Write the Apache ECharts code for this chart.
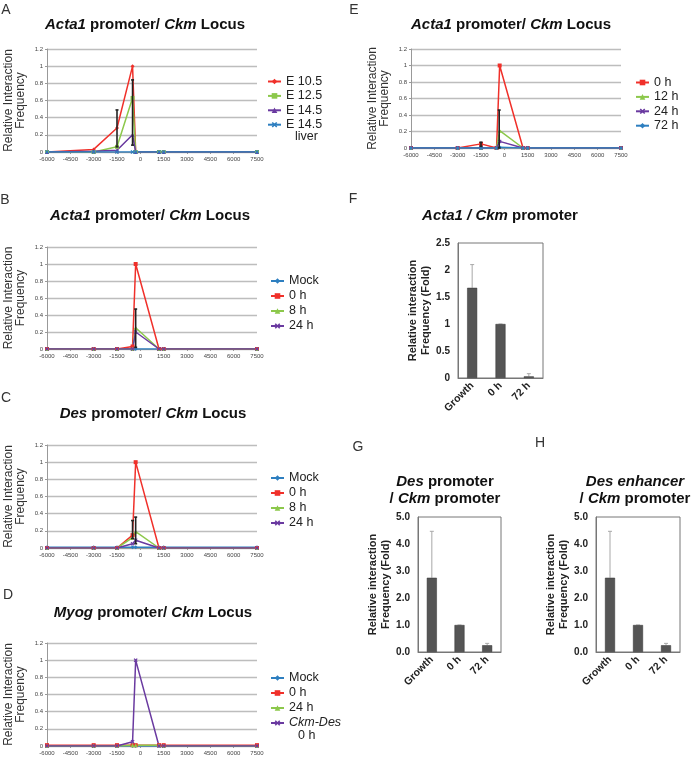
<!DOCTYPE html>
<html><head><meta charset="utf-8">
<script src="https://cdn.jsdelivr.net/npm/echarts@6/dist/echarts.min.js"></script>
<style>html,body{margin:0;padding:0;background:#fff}#c{width:696px;height:757px}</style>
</head><body><div id="c"></div>
<script>
// ---------- data ----------
const lociX = [-6000, -3000, -1500, -500, -300, 1200, 1500, 7500];
const xMin = -6000, xMax = 7500, xStep = 1500;

// Panel A: Acta1 promoter / Ckm locus (embryonic)
const aNames = ['E 10.5', 'E 12.5', 'E 14.5', 'E 14.5'];
const aE105 = [0, 0.03, 0.28, 1.0, 0, 0, 0, 0];
const aE125 = [0, 0, 0.06, 0.63, 0, 0, 0, 0];
const aE145 = [0, 0.01, 0.02, 0.2, 0, 0, 0, 0];
const aLiver = [0, 0, 0, 0, 0, 0, 0, 0];
const aErr = [[-1500, 0.06, 0.49], [-500, 0.08, 0.84]];

// Panel B: Acta1 promoter / Ckm locus
const bNames = ['Mock', '0 h', '8 h', '24 h'];
const bMock = [0, 0, 0, 0, 0, 0, 0, 0];
const b0h = [0, 0, 0, 0.03, 1.0, 0, 0, 0];
const b8h = [0, 0, 0, 0, 0.25, 0, 0, 0];
const b24h = [0, 0, 0, 0, 0.2, 0, 0, 0];
const bErr = [[-300, 0.02, 0.47]];

// Panel C: Des promoter / Ckm locus
const cNames = ['Mock', '0 h', '8 h', '24 h'];
const cMock = [0.01, 0.01, 0.01, 0.01, 0.01, 0.01, 0.01, 0.01];
const c0h = [0, 0, 0, 0.15, 1.0, 0, 0, 0];
const c8h = [0, 0, 0, 0.12, 0.19, 0, 0, 0];
const c24h = [0, 0, 0, 0.05, 0.09, 0, 0, 0];
const cErr = [[-500, 0.11, 0.32], [-300, 0.05, 0.36]];

// Panel D: Myog promoter / Ckm locus
const dNames = ['Mock', '0 h', '24 h', 'Ckm-Des'];
const dMock = [0, 0, 0, 0, 0, 0, 0, 0];
const d0h = [0.01, 0.01, 0.01, 0.01, 0.01, 0.01, 0.01, 0.01];
const d24h = [0, 0, 0, 0.01, 0.01, 0.01, 0, 0];
const dCkmDes = [0, 0, 0, 0.05, 1.0, 0, 0, 0];

// Panel E: Acta1 promoter / Ckm locus (time course)
const eNames = ['0 h', '12 h', '24 h', '72 h'];
const e0h = [0, 0, 0.05, 0, 1.0, 0, 0, 0];
const e12h = [0, 0, 0, 0, 0.21, 0, 0, 0];
const e24h = [0, 0, 0, 0, 0.08, 0, 0, 0];
const e72h = [0, 0, 0, 0, 0.01, 0, 0, 0];
const eErr = [[-1500, 0.02, 0.07], [-330, 0.0, 0.46]];

// Bar panels F, G, H
const barCats = ['Growth', '0 h', '72 h'];
const fVals = [1.67, 1.0, 0.03];
const fErrTop = [2.1, 1.0, 0.08];
const gVals = [2.75, 1.0, 0.25];
const gErrTop = [4.47, 1.0, 0.32];
const hVals = [2.75, 1.0, 0.25];
const hErrTop = [4.47, 1.0, 0.32];

// ---------- styling ----------
const FONT = 'Liberation Sans, Arial, sans-serif';
const RED = '#f0302a', GREEN = '#8cc84b', PURPLE = '#6a3aa0', BLUE = '#2e7fc0';
const XSYM = 'path://M2,0L5,3L8,0L10,2L7,5L10,8L8,10L5,7L2,10L0,8L3,5L0,2Z';

const grids = [
  {left: 47, top: 49, width: 210, height: 103},   // A
  {left: 47, top: 247, width: 210, height: 102},  // B
  {left: 47, top: 445, width: 210, height: 103},  // C
  {left: 47, top: 643, width: 210, height: 103},  // D
  {left: 411, top: 49, width: 210, height: 99},   // E
  {left: 458, top: 243, width: 85, height: 135, show: true, borderColor: '#777', borderWidth: 1}, // F
  {left: 418, top: 517, width: 83, height: 135, show: true, borderColor: '#777', borderWidth: 1}, // G
  {left: 596, top: 517, width: 84, height: 135, show: true, borderColor: '#777', borderWidth: 1}  // H
];

const xAxes = [], yAxes = [];
for (let i = 0; i < 5; i++) {
  xAxes.push({type: 'value', gridIndex: i, min: xMin, max: xMax, interval: xStep,
    splitLine: {show: false},
    axisLine: {onZero: false, lineStyle: {color: '#999', width: 1}},
    axisTick: {show: true, length: 2, lineStyle: {color: '#999'}},
    axisLabel: {fontSize: 6, color: '#444', margin: 4, fontFamily: FONT, formatter: v => String(v)}});
  yAxes.push({type: 'value', gridIndex: i, min: 0, max: 1.2, interval: 0.2,
    name: 'Relative Interaction\nFrequency', nameLocation: 'middle', nameGap: 20,
    nameTextStyle: {fontSize: 12, color: '#333', fontFamily: FONT, lineHeight: 12},
    splitLine: {lineStyle: {color: '#bdbdbd', width: 1.3}},
    axisLine: {show: true, onZero: false, lineStyle: {color: '#999', width: 1}},
    axisTick: {show: true, length: 2, lineStyle: {color: '#999'}},
    axisLabel: {fontSize: 6, color: '#444', margin: 4, fontFamily: FONT}});
}
const barY = [
  {max: 2.5, interval: 0.5, fmt: v => String(v), gap: 18},
  {max: 5, interval: 1, fmt: v => v.toFixed(1), gap: 20},
  {max: 5, interval: 1, fmt: v => v.toFixed(1), gap: 20}
];
barY.forEach((b, k) => {
  const gi = 5 + k;
  xAxes.push({type: 'category', gridIndex: gi, data: barCats,
    axisLine: {lineStyle: {color: '#777'}}, axisTick: {show: false},
    axisLabel: {rotate: 45, fontSize: 10.5, fontWeight: 'bold', color: '#222', margin: 6, fontFamily: FONT, interval: 0}});
  yAxes.push({type: 'value', gridIndex: gi, min: 0, max: b.max, interval: b.interval,
    name: 'Relative interaction\nFrequency (Fold)', nameLocation: 'middle', nameGap: b.gap,
    nameTextStyle: {fontSize: 11, fontWeight: 'bold', color: '#222', fontFamily: FONT, lineHeight: 13},
    splitLine: {show: false}, axisTick: {show: false},
    axisLine: {show: true, lineStyle: {color: '#777'}},
    axisLabel: {fontSize: 10, fontWeight: 'bold', color: '#222', margin: 8, fontFamily: FONT, formatter: b.fmt}});
});

function lineS(gi, key, name, vals, color, symbol) {
  return {type: 'line', name: key + '|' + name, xAxisIndex: gi, yAxisIndex: gi,
    data: lociX.map((x, i) => [x, vals[i]]),
    color: color, symbol: symbol, symbolSize: 4, showSymbol: true,
    lineStyle: {width: 1.5, color: color}, itemStyle: {color: color},
    animation: false};
}
function errLine(gi, data) {
  return {type: 'custom', name: 'err' + gi, xAxisIndex: gi, yAxisIndex: gi, z: 4, animation: false, silent: true,
    data: data,
    renderItem(params, api) {
      const x = api.value(0);
      const p1 = api.coord([x, api.value(1)]), p2 = api.coord([x, api.value(2)]);
      const st = {stroke: '#222', lineWidth: 1.6};
      return {type: 'group', children: [
        {type: 'line', shape: {x1: p1[0], y1: p1[1], x2: p2[0], y2: p2[1]}, style: st},
        {type: 'line', shape: {x1: p1[0] - 1.5, y1: p1[1], x2: p1[0] + 1.5, y2: p1[1]}, style: st},
        {type: 'line', shape: {x1: p2[0] - 1.5, y1: p2[1], x2: p2[0] + 1.5, y2: p2[1]}, style: st}
      ]};
    }};
}
function barS(gi, vals) {
  return {type: 'bar', name: 'bar' + gi, xAxisIndex: gi, yAxisIndex: gi, data: vals, barWidth: 10,
    itemStyle: {color: '#555', borderColor: '#333', borderWidth: 0.5}, animation: false, z: 2};
}
function barErr(gi, tops, vals) {
  return {type: 'custom', name: 'berr' + gi, xAxisIndex: gi, yAxisIndex: gi, z: 1, animation: false, silent: true,
    data: tops.map((t, i) => [i, vals[i], t]),
    renderItem(params, api) {
      const i = api.value(0);
      const p1 = api.coord([i, api.value(1)]), p2 = api.coord([i, api.value(2)]);
      const st = {stroke: '#a8a8a8', lineWidth: 1};
      return {type: 'group', children: [
        {type: 'line', shape: {x1: p1[0], y1: p1[1], x2: p2[0], y2: p2[1]}, style: st},
        {type: 'line', shape: {x1: p2[0] - 2, y1: p2[1], x2: p2[0] + 2, y2: p2[1]}, style: st}
      ]};
    }};
}

const series = [
  lineS(0, 'A', aNames[0], aE105, RED, 'diamond'),
  lineS(0, 'A', aNames[1], aE125, GREEN, 'rect'),
  lineS(0, 'A', aNames[2], aE145, PURPLE, 'triangle'),
  lineS(0, 'A', aNames[3] + ' liver', aLiver, BLUE, XSYM),
  errLine(0, aErr),
  lineS(1, 'B', bNames[0], bMock, BLUE, 'diamond'),
  lineS(1, 'B', bNames[1], b0h, RED, 'rect'),
  lineS(1, 'B', bNames[2], b8h, GREEN, 'triangle'),
  lineS(1, 'B', bNames[3], b24h, PURPLE, XSYM),
  errLine(1, bErr),
  lineS(2, 'C', cNames[0], cMock, BLUE, 'diamond'),
  lineS(2, 'C', cNames[1], c0h, RED, 'rect'),
  lineS(2, 'C', cNames[2], c8h, GREEN, 'triangle'),
  lineS(2, 'C', cNames[3], c24h, PURPLE, XSYM),
  errLine(2, cErr),
  lineS(3, 'D', dNames[0], dMock, BLUE, 'diamond'),
  lineS(3, 'D', dNames[1], d0h, RED, 'rect'),
  lineS(3, 'D', dNames[2], d24h, GREEN, 'triangle'),
  lineS(3, 'D', dNames[3], dCkmDes, PURPLE, XSYM),
  lineS(4, 'E', eNames[0], e0h, RED, 'rect'),
  lineS(4, 'E', eNames[1], e12h, GREEN, 'triangle'),
  lineS(4, 'E', eNames[2], e24h, PURPLE, XSYM),
  lineS(4, 'E', eNames[3], e72h, BLUE, 'diamond'),
  errLine(4, eErr),
  barErr(5, fErrTop, fVals), barS(5, fVals),
  barErr(6, gErrTop, gVals), barS(6, gVals),
  barErr(7, hErrTop, hVals), barS(7, hVals)
];

function legend(key, names, left, top, gap, suffix) {
  return {left: left, top: top, orient: 'vertical', itemWidth: 13, itemHeight: 7, itemGap: gap, padding: 0,
    selectedMode: false, data: names.map((n, i) => key + '|' + n + (suffix && i === names.length - 1 ? suffix : '')),
    formatter: name => {
      const t = name.split('|')[1].replace(' liver', '');
      return t === 'Ckm-Des' ? '{i|Ckm-Des}' : t;
    },
    textStyle: {fontSize: 12.5, color: '#222', fontFamily: FONT, lineHeight: 14, padding: 0,
      rich: {i: {fontStyle: 'italic', fontSize: 12.5, fontFamily: FONT, color: '#222', lineHeight: 14}}}};
}

const titleRich = {
  i: {fontStyle: 'italic', fontWeight: 'bold', fontSize: 15, fontFamily: FONT, color: '#111'},
  b: {fontWeight: 'bold', fontSize: 15, fontFamily: FONT, color: '#111'}
};
function title(text, cx, top) {
  return {text: text, left: cx, top: top, textAlign: 'center', padding: 0,
    textStyle: {rich: titleRich, fontSize: 15, fontWeight: 'bold', fontFamily: FONT, lineHeight: 17}};
}

const letters = [['A', 6, 10], ['B', 5, 200], ['C', 6, 398], ['D', 8, 595], ['E', 354, 10], ['F', 353, 199], ['G', 358, 447], ['H', 540, 443]];

const option = {
  backgroundColor: '#fff',
  animation: false,
  title: [
    title('{i|Acta1}{b| promoter/ }{i|Ckm}{b| Locus}', 145, 16),
    title('{i|Acta1}{b| promoter/ }{i|Ckm}{b| Locus}', 150, 207),
    title('{i|Des}{b| promoter/ }{i|Ckm}{b| Locus}', 153, 405),
    title('{i|Myog}{b| promoter/ }{i|Ckm}{b| Locus}', 153, 604),
    title('{i|Acta1}{b| promoter/ }{i|Ckm}{b| Locus}', 511, 16),
    title('{i|Acta1 / Ckm}{b| promoter}', 500, 207),
    title('{i|Des}{b| promoter}\n{b|/ }{i|Ckm}{b| promoter}', 445, 473),
    title('{i|Des enhancer}\n{b|/ }{i|Ckm}{b| promoter}', 635, 473)
  ],
  grid: grids,
  xAxis: xAxes,
  yAxis: yAxes,
  legend: [
    legend('A', aNames, 267, 74.5, 0.4, ' liver'),
    legend('B', bNames, 270, 274, 1),
    legend('C', cNames, 270, 471, 1),
    legend('D', dNames, 270, 671, 1),
    legend('E', eNames, 635, 75.5, 0.4)
  ],
  series: series,
  graphic: letters.map(l => ({type: 'text', x: l[1], y: l[2],
    style: {text: l[0], font: '14px ' + FONT, fill: '#333', textAlign: 'center', textVerticalAlign: 'middle'}}))
    .concat([
      {type: 'text', x: 295, y: 137, style: {text: 'liver', font: '12.5px ' + FONT, fill: '#222', textVerticalAlign: 'middle'}},
      {type: 'text', x: 298, y: 736, style: {text: '0 h', font: '12.5px ' + FONT, fill: '#222', textVerticalAlign: 'middle'}}
    ])
};

const chart = echarts.init(document.getElementById('c'), null, {renderer: 'canvas'});
chart.setOption(option);
</script>
</body></html>
